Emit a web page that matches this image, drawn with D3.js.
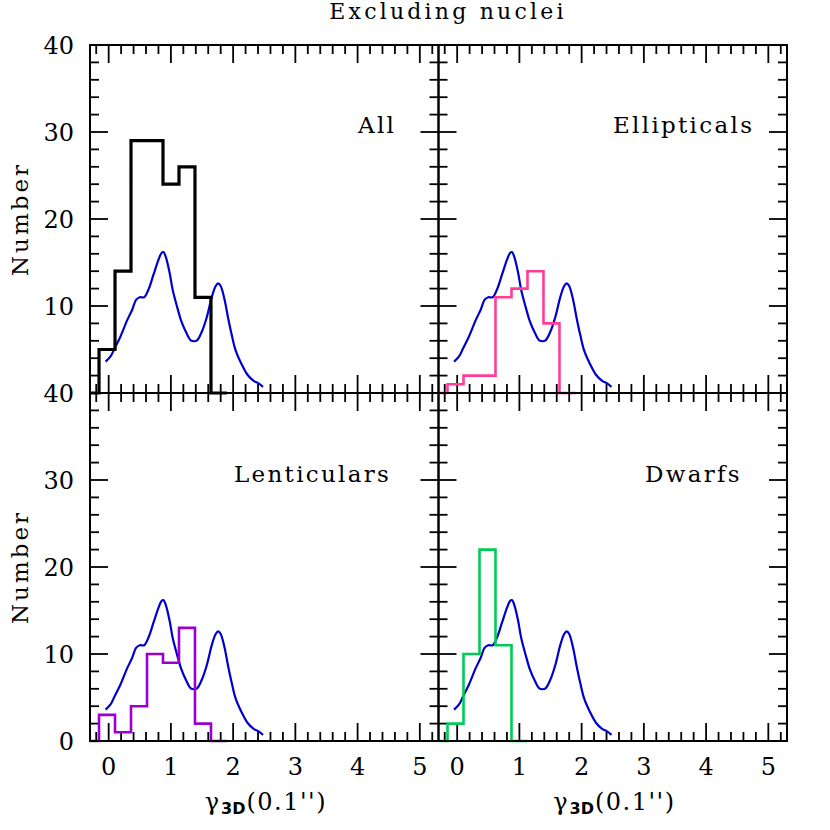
<!DOCTYPE html>
<html>
<head>
<meta charset="utf-8">
<script src="https://cdn.jsdelivr.net/npm/d3@7/dist/d3.min.js"></script>
<style>
  html, body { margin: 0; padding: 0; background: #fff; }
  svg { display: block; }
  text { font-family: "DejaVu Serif", serif; fill: #000; }
</style>
</head>
<body>
<svg id="chart" width="830" height="830"></svg>
<script>
// ---------------- data ----------------
const title = "Excluding nuclei";
const panelNames = ["All", "Ellipticals", "Lenticulars", "Dwarfs"];
const binEdges = [-0.412, -0.155, 0.102, 0.359, 0.616, 0.873, 1.130, 1.387, 1.644, 1.901];
const allCounts = [0, 5, 14, 29, 29, 24, 26, 11, 0];
const ellCounts = [0, 1, 2, 2, 11, 12, 14, 8, 0];
const lenCounts = [0, 3, 1, 4, 10, 9, 13, 2, 0];
const dwfCounts = [0, 2, 10, 22, 11, 0];
// smooth reference curve (same in every panel)
const curveX = [-0.05, 0.03, 0.10, 0.19, 0.30, 0.38, 0.44, 0.50, 0.57, 0.64, 0.72, 0.80, 0.85, 0.88, 0.92, 0.98, 1.03, 1.10, 1.17, 1.25, 1.32, 1.37, 1.42, 1.50, 1.58, 1.66, 1.72, 1.76, 1.80, 1.86, 1.92, 1.98, 2.04, 2.13, 2.23, 2.33, 2.41, 2.48];
const curveY = [3.6, 4.2, 5.2, 6.5, 8.4, 9.6, 10.7, 11.0, 11.0, 11.9, 13.6, 15.3, 16.1, 16.2, 15.6, 13.8, 11.8, 9.9, 8.2, 6.9, 6.05, 5.95, 6.05, 7.1, 8.8, 11.1, 12.3, 12.6, 12.3, 10.8, 8.6, 6.6, 4.9, 3.4, 2.1, 1.4, 1.1, 0.7];
const xTickLabels = [0, 1, 2, 3, 4, 5];
const yTickLabelsTop = [10, 20, 30, 40];
const yTickLabelsBottom = [0, 10, 20, 30, 40];
const xLabel = ["γ", "3D", "(0.1'')"];
const yLabel = "Number";

// ---------------- layout ----------------
const svg = d3.select("#chart");
const L = 90, M = 438.5, R = 787, T = 45, MY = 393, B = 741;
const xDomain = [-0.3, 5.3], yDomain = [0, 40];

const panels = [
  { name: panelNames[0], counts: allCounts, color: "#000000", width: 3.2, x0: L, x1: M, y0: T, y1: MY, lx: 358, ly: 133, yLab: yTickLabelsTop, xLab: false },
  { name: panelNames[1], counts: ellCounts, color: "#ff3d96", width: 2.6, x0: M, x1: R, y0: T, y1: MY, lx: 613, ly: 133, yLab: null, xLab: false },
  { name: panelNames[2], counts: lenCounts, color: "#9a00d0", width: 2.6, x0: L, x1: M, y0: MY, y1: B, lx: 234, ly: 482, yLab: yTickLabelsBottom, xLab: true },
  { name: panelNames[3], counts: dwfCounts, color: "#00cc55", width: 2.6, x0: M, x1: R, y0: MY, y1: B, lx: 645, ly: 482, yLab: null, xLab: true }
];

const defs = svg.append("defs");

panels.forEach((p, i) => {
  const x = d3.scaleLinear().domain(xDomain).range([p.x0, p.x1]);
  const y = d3.scaleLinear().domain(yDomain).range([p.y1, p.y0]);
  const g = svg.append("g");

  defs.append("clipPath").attr("id", "clip" + i)
    .append("rect").attr("x", p.x0).attr("y", p.y0 - 2).attr("width", p.x1 - p.x0).attr("height", p.y1 - p.y0 + 4);

  // ticks
  const xMinor = d3.range(-2, 54, 2).map(v => v / 10);
  const yMinor = d3.range(0, 41, 2);
  const tg = g.append("g").attr("stroke", "#000").attr("stroke-width", 1.8);
  xMinor.forEach(v => {
    if (v <= xDomain[0] || v >= xDomain[1]) return;
    const major = Math.abs(v - Math.round(v)) < 1e-6;
    const len = major ? 18 : 9;
    tg.append("line").attr("x1", x(v)).attr("x2", x(v)).attr("y1", p.y1).attr("y2", p.y1 - len);
    tg.append("line").attr("x1", x(v)).attr("x2", x(v)).attr("y1", p.y0).attr("y2", p.y0 + len);
  });
  yMinor.forEach(v => {
    if (v <= 0 || v >= 40) return;
    const major = v % 10 === 0;
    const len = major ? 18 : 9;
    tg.append("line").attr("x1", p.x0).attr("x2", p.x0 + len).attr("y1", y(v)).attr("y2", y(v));
    tg.append("line").attr("x1", p.x1).attr("x2", p.x1 - len).attr("y1", y(v)).attr("y2", y(v));
  });

  // blue curve
  const pts = curveX.map((cx, k) => [cx, curveY[k]]);
  g.append("path")
    .attr("d", d3.line().x(d => x(d[0])).y(d => y(d[1])).curve(d3.curveCatmullRom)(pts))
    .attr("fill", "none").attr("stroke", "#0000cc").attr("stroke-width", 2.2)
    .attr("clip-path", "url(#clip" + i + ")");

  // histogram step
  const steps = [];
  p.counts.forEach((c, k) => {
    steps.push([binEdges[k], c]);
    steps.push([binEdges[k + 1], c]);
  });
  g.append("path")
    .attr("d", d3.line().x(d => x(d[0])).y(d => y(d[1]))(steps))
    .attr("fill", "none").attr("stroke", p.color).attr("stroke-width", p.width)
    .attr("stroke-linejoin", "miter").attr("stroke-linecap", "butt")
    .attr("clip-path", "url(#clip" + i + ")");

  // frame
  g.append("rect").attr("x", p.x0).attr("y", p.y0).attr("width", p.x1 - p.x0).attr("height", p.y1 - p.y0)
    .attr("fill", "none").attr("stroke", "#000").attr("stroke-width", 2);

  // panel label
  g.append("text").attr("x", p.lx).attr("y", p.ly).attr("font-size", 23)
    .attr("letter-spacing", 2.3).text(p.name);

  if (p.yLab) {
    p.yLab.forEach(v => {
      g.append("text").attr("x", 74).attr("y", y(v) + 9).attr("text-anchor", "end")
        .attr("font-size", 24).text(v);
    });
    g.append("text").attr("transform", `translate(28,${(p.y0 + p.y1) / 2}) rotate(-90)`)
      .attr("text-anchor", "middle").attr("font-size", 23).attr("letter-spacing", 3).text(yLabel);
  }
  if (p.xLab) {
    xTickLabels.forEach(v => {
      g.append("text").attr("x", x(v)).attr("y", 775).attr("text-anchor", "middle")
        .attr("font-size", 24).text(v);
    });
    const t = g.append("text").attr("x", x(0) + 96).attr("y", 810).attr("font-size", 24);
    t.append("tspan").text(xLabel[0]);
    t.append("tspan").attr("dy", 4).attr("dx", 2).attr("font-family", "DejaVu Sans").attr("font-weight", "bold")
      .attr("font-size", 16).text(xLabel[1]);
    t.append("tspan").attr("dy", -4).attr("dx", 1).attr("letter-spacing", 1.5).text(xLabel[2]);
  }
});

svg.append("text").attr("x", 448).attr("y", 19).attr("text-anchor", "middle")
  .attr("font-size", 22).attr("letter-spacing", 3.2).text(title);
</script>
</body>
</html>
